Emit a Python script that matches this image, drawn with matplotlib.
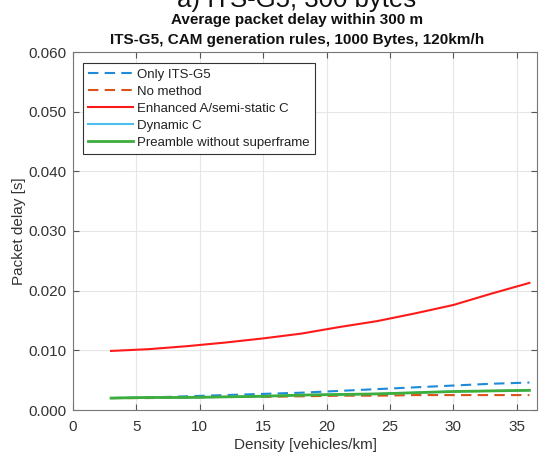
import numpy as np
import matplotlib
matplotlib.use("Agg")
import matplotlib.pyplot as plt

plt.rcParams['font.family'] = ['Liberation Sans', 'DejaVu Sans']

# vehicle density [vehicles/km]
density = [3, 6, 9, 12, 15, 18, 21, 24, 27, 30, 33, 36]

# average packet delay [s]
only_itsg5 = [0.0020, 0.0021, 0.0023, 0.0025, 0.0027, 0.0029, 0.0032, 0.0035, 0.0038, 0.0041, 0.0044, 0.0046]
no_method = [0.0020, 0.0020, 0.0021, 0.0022, 0.0022, 0.0023, 0.0024, 0.0024, 0.0025, 0.0025, 0.0025, 0.0025]
enhanced_a = [0.0099, 0.0102, 0.0107, 0.0113, 0.0120, 0.0128, 0.0139, 0.0149, 0.0162, 0.0176, 0.0195, 0.0213]
dynamic_c = [0.0020, 0.0021, 0.0021, 0.0022, 0.0023, 0.0025, 0.0026, 0.0027, 0.0029, 0.0031, 0.0032, 0.0033]
preamble = [0.0020, 0.0021, 0.0021, 0.0022, 0.0023, 0.0025, 0.0026, 0.0027, 0.0029, 0.0031, 0.0032, 0.0033]

xticks = [0, 5, 10, 15, 20, 25, 30, 35]
yticks = [0.0, 0.01, 0.02, 0.03, 0.04, 0.05, 0.06]

fig = plt.figure(figsize=(5.39, 4.55), dpi=100)
ax = fig.add_axes([73/539, 45/455, 464/539, 358/455])

lw = 1.5
ax.plot(density, only_itsg5, '--', color='#1f8ad8', lw=lw, dashes=(5, 3), label='Only ITS-G5')
ax.plot(density, no_method, '--', color='#d95319', lw=lw, dashes=(5, 3), label='No method')
ax.plot(density, enhanced_a, '-', color='#ff1a1a', lw=lw, label='Enhanced A/semi-static C')
ax.plot(density, dynamic_c, '-', color='#4dbeee', lw=lw, label='Dynamic C')
ax.plot(density, preamble, '-', color='#3cae3c', lw=lw + 0.5, label='Preamble without superframe')

ax.set_xlim(0, 36.6)
ax.set_ylim(0, 0.06)
ax.set_xticks(xticks)
ax.set_yticks(yticks)
ax.set_yticklabels(['%.3f' % v for v in yticks])
ax.grid(True, color='#e6e6e6', lw=0.8)
ax.set_axisbelow(True)
ax.tick_params(direction='in', top=True, right=True, labelsize=11,
               colors='#555555', labelcolor='#333333', length=4, pad=5)
ax.tick_params(axis='x', pad=7)
for s in ax.spines.values():
    s.set_color('#777777')
    s.set_linewidth(0.8)

ax.set_xlabel('Density [vehicles/km]', fontsize=11, color='#333333', labelpad=3)
ax.set_ylabel('Packet delay [s]', fontsize=11, color='#333333', labelpad=1.5)

fig.text(297/539, 1 - 7/455, 'a) ITS-G5, 300 bytes', ha='center', va='baseline',
         fontsize=18.5, color='#111111')
fig.text(297/539, 1 - 24/455, 'Average packet delay within 300 m', ha='center',
         va='baseline', fontsize=11, fontweight='bold', color='#111111')
fig.text(297/539, 1 - 44/455, 'ITS-G5, CAM generation rules, 1000 Bytes, 120km/h',
         ha='center', va='baseline', fontsize=11, fontweight='bold', color='#111111')

leg = ax.legend(loc='upper left', bbox_to_anchor=(10/464, 1 - 11/358), fontsize=9.5,
                handlelength=3.4, handletextpad=0.3, labelspacing=0.37,
                borderpad=0.4, borderaxespad=0, fancybox=False, framealpha=1)
leg.get_frame().set_edgecolor('#333333')
leg.get_frame().set_linewidth(0.8)
for t in leg.get_texts():
    t.set_color('#222222')

fig.savefig('out.png', dpi=100)
